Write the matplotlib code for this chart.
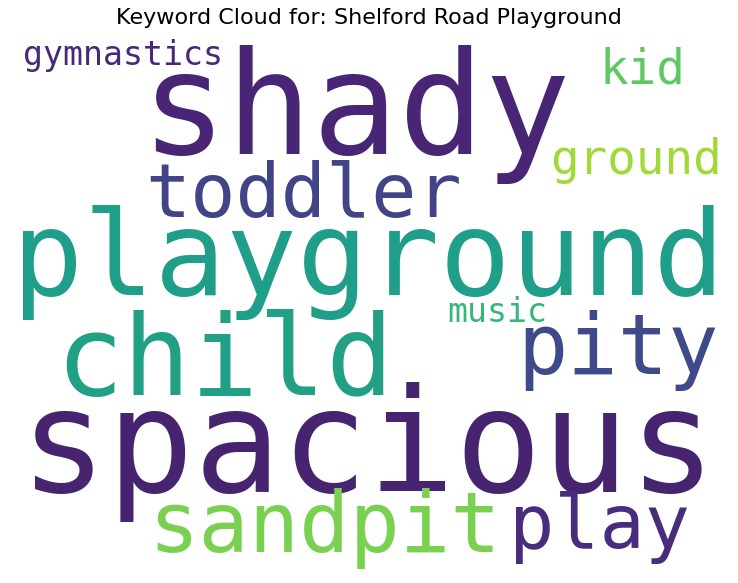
import matplotlib
matplotlib.use("Agg")
import matplotlib.pyplot as plt

# keywords and their relative weights
words = ['spacious', 'shady', 'playground', 'child', 'toddler', 'pity',
         'sandpit', 'play', 'ground', 'kid', 'gymnastics', 'music']
weights = [1.00, 0.99, 0.82, 0.78, 0.52, 0.58, 0.58, 0.52, 0.33, 0.33, 0.23, 0.23]
colors = ['#46246f', '#482575', '#1f9e89', '#21a085', '#414487', '#3e4a89',
          '#7ad151', '#472d7b', '#a0da39', '#5ec962', '#482878', '#35b779']

# layout of the cloud (pixel centres in the 738x583 image)
pos_x = [368, 355, 368, 225, 304, 618, 325, 600, 636, 642, 123, 497]
pos_y = [437, 100, 250, 352, 188, 342, 520, 520, 155, 65, 52, 309]
max_size = 104

fig = plt.figure(figsize=(7.38, 5.83), dpi=100)
ax = fig.add_axes([0, 0, 1, 1])
ax.set_xlim(0, 738)
ax.set_ylim(583, 0)
ax.axis('off')

for w, s, c, x, y in zip(words, weights, colors, pos_x, pos_y):
    ax.text(x, y, w, fontsize=max_size * s, color=c, family='DejaVu Sans Mono',
            ha='center', va='center_baseline')

ax.text(369, 18, 'Keyword Cloud for: Shelford Road Playground', fontsize=16,
        ha='center', va='center')

fig.savefig('out.png', dpi=100)
